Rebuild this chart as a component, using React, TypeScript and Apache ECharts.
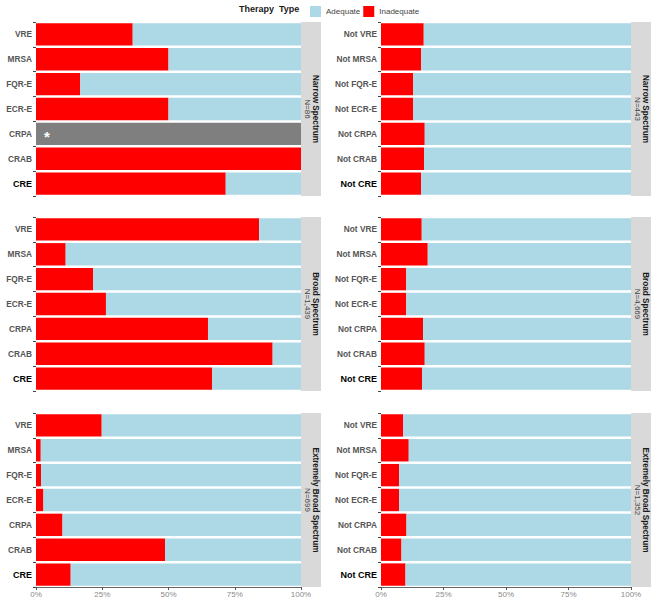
import React, { useEffect, useRef } from "react";
import * as echarts from "echarts";

const resistantCats = ["VRE", "MRSA", "FQR-E", "ECR-E", "CRPA", "CRAB", "CRE"];
const notResistantCats = ["Not VRE", "Not MRSA", "Not FQR-E", "Not ECR-E", "Not CRPA", "Not CRAB", "Not CRE"];

const spectrumNames = ["Narrow Spectrum", "Broad Spectrum", "Extremely Broad Spectrum"];
const nResistant = ["N=86", "N=1,439", "N=699"];
const nNotResistant = ["N=443", "N=4,669", "N=1,352"];

// Inadequate (%) / Adequate (%) — null = no data
const narrowResInad = [36.5, 50.0, 16.7, 50.0, null, 100.0, 71.6];
const narrowResAdeq = [63.5, 50.0, 83.3, 50.0, null, 0.0, 28.4];
const narrowResNoData = [null, null, null, null, 100, null, null];
const broadResInad = [84.2, 11.2, 21.6, 26.4, 64.9, 89.3, 66.5];
const broadResAdeq = [15.8, 88.8, 78.4, 73.6, 35.1, 10.7, 33.5];
const extResInad = [24.8, 1.8, 1.9, 2.8, 10.0, 48.7, 13.1];
const extResAdeq = [75.2, 98.2, 98.1, 97.2, 90.0, 51.3, 86.9];

const narrowNotInad = [17.1, 16.1, 12.9, 12.9, 17.5, 17.2, 16.0];
const narrowNotAdeq = [82.9, 83.9, 87.1, 87.1, 82.5, 82.8, 84.0];
const broadNotInad = [16.3, 18.7, 10.1, 10.1, 16.8, 17.5, 16.4];
const broadNotAdeq = [83.7, 81.3, 89.9, 89.9, 83.2, 82.5, 83.6];
const extNotInad = [8.9, 11.1, 7.2, 7.2, 10.2, 8.2, 9.8];
const extNotAdeq = [91.1, 88.9, 92.8, 92.8, 89.8, 91.8, 90.2];

const xTicks = [0, 25, 50, 75, 100];

const RED = "#FF0000";
const BLUE = "#ADD8E6";
const GREY = "#7F7F7F";
const STRIP = "#D9D9D9";
const FONT = "'Liberation Sans', Arial, Helvetica, sans-serif";

export default function App() {
  const ref = useRef<HTMLDivElement>(null);

  useEffect(() => {
    document.body.style.margin = "0";
    if (!ref.current) return;
    const chart = echarts.init(ref.current, null, { renderer: "svg" });

    const rowsTop = [22, 217, 413];
    const rowH = 174;
    const cols = [
      { left: 36, width: 265, stripX: 301 },
      { left: 381, width: 250, stripX: 631 },
    ];
    const stripW = 20;

    const panels = [
      { row: 0, col: 0, cats: resistantCats, inad: narrowResInad, adeq: narrowResAdeq, noData: narrowResNoData, n: nResistant[0] },
      { row: 0, col: 1, cats: notResistantCats, inad: narrowNotInad, adeq: narrowNotAdeq, noData: null, n: nNotResistant[0] },
      { row: 1, col: 0, cats: resistantCats, inad: broadResInad, adeq: broadResAdeq, noData: null, n: nResistant[1] },
      { row: 1, col: 1, cats: notResistantCats, inad: broadNotInad, adeq: broadNotAdeq, noData: null, n: nNotResistant[1] },
      { row: 2, col: 0, cats: resistantCats, inad: extResInad, adeq: extResAdeq, noData: null, n: nResistant[2] },
      { row: 2, col: 1, cats: notResistantCats, inad: extNotInad, adeq: extNotAdeq, noData: null, n: nNotResistant[2] },
    ];

    const grid: any[] = [];
    const xAxis: any[] = [];
    const yAxis: any[] = [];
    const series: any[] = [];
    const graphic: any[] = [];

    panels.forEach((p, i) => {
      const c = cols[p.col];
      const top = rowsTop[p.row];
      grid.push({ left: c.left, top, width: c.width, height: rowH, containLabel: false });
      const bottomRow = p.row === 2;
      xAxis.push({
        type: "value",
        gridIndex: i,
        min: 0,
        max: 100,
        interval: 25,
        splitLine: { show: false },
        axisLine: { show: bottomRow, lineStyle: { color: "#666", width: 1 } },
        axisTick: { show: bottomRow, length: 3, lineStyle: { color: "#555" } },
        axisLabel: {
          show: bottomRow,
          formatter: "{value}%",
          color: "#8a8a8a",
          fontSize: 8,
          fontFamily: FONT,
          margin: 3,
        },
        data: xTicks,
      });
      const last = p.cats.length - 1;
      yAxis.push({
        type: "category",
        gridIndex: i,
        inverse: true,
        data: p.cats.map((cat, k) =>
          k === last
            ? { value: cat, textStyle: { color: "#000", fontWeight: "bold", fontSize: 9 } }
            : cat
        ),
        axisLine: { show: false },
        axisTick: { show: true, length: 3, lineStyle: { color: "#444" } },
        axisLabel: {
          color: "#555",
          fontWeight: "bold",
          fontSize: 8.3,
          fontFamily: FONT,
          margin: 4,
        },
        splitLine: { show: false },
      });
      series.push({
        type: "bar",
        name: "Inadequate",
        xAxisIndex: i,
        yAxisIndex: i,
        stack: "s" + i,
        barWidth: "90%",
        data: p.inad,
        itemStyle: { color: RED },
      });
      if (p.noData) {
        series.push({
          type: "bar",
          name: "No data",
          xAxisIndex: i,
          yAxisIndex: i,
          stack: "s" + i,
          barWidth: "90%",
          data: p.noData,
          itemStyle: { color: GREY },
          label: {
            show: true,
            position: "insideLeft",
            distance: 8,
            offset: [0, 3],
            formatter: "*",
            color: "#fff",
            fontSize: 15,
            fontWeight: "bold",
            fontFamily: FONT,
          },
        });
      }
      series.push({
        type: "bar",
        name: "Adequate",
        xAxisIndex: i,
        yAxisIndex: i,
        stack: "s" + i,
        barWidth: "90%",
        data: p.adeq,
        itemStyle: { color: BLUE },
      });

      graphic.push({
        type: "rect",
        shape: { x: c.stripX, y: top, width: stripW, height: rowH },
        style: { fill: STRIP },
        silent: true,
      });
      graphic.push({
        type: "text",
        x: c.stripX + stripW / 2 + 0.5,
        y: top + rowH / 2,
        rotation: -Math.PI / 2,
        style: {
          text: `{b|${spectrumNames[p.row]}}\n{n|${p.n}}`,
          align: "center",
          verticalAlign: "middle",
          fontFamily: FONT,
          rich: {
            b: { fontWeight: "bold", fontSize: 8.2, fill: "#1a1a1a", lineHeight: 8, fontFamily: FONT },
            n: { fontSize: 8, fill: "#444", lineHeight: 8, fontFamily: FONT },
          },
        },
        silent: true,
      });
    });

    graphic.push({
      type: "text",
      x: 239,
      y: 9,
      style: {
        text: "Therapy  Type",
        fontWeight: "bold",
        fontSize: 9,
        fontFamily: FONT,
        fill: "#1a1a1a",
        align: "left",
        verticalAlign: "middle",
      },
    });

    chart.setOption({
      animation: false,
      backgroundColor: "#fff",
      textStyle: { fontFamily: FONT },
      legend: {
        data: ["Adequate", "Inadequate"],
        left: 305,
        top: 1,
        itemWidth: 11,
        itemHeight: 11,
        itemGap: 3,
        icon: "rect",
        textStyle: { fontSize: 8, color: "#444", fontFamily: FONT },
        selectedMode: false,
      },
      grid,
      xAxis,
      yAxis,
      series,
      graphic,
    });

    return () => chart.dispose();
  }, []);

  return <div ref={ref} style={{ width: 657, height: 600 }} />;
}
